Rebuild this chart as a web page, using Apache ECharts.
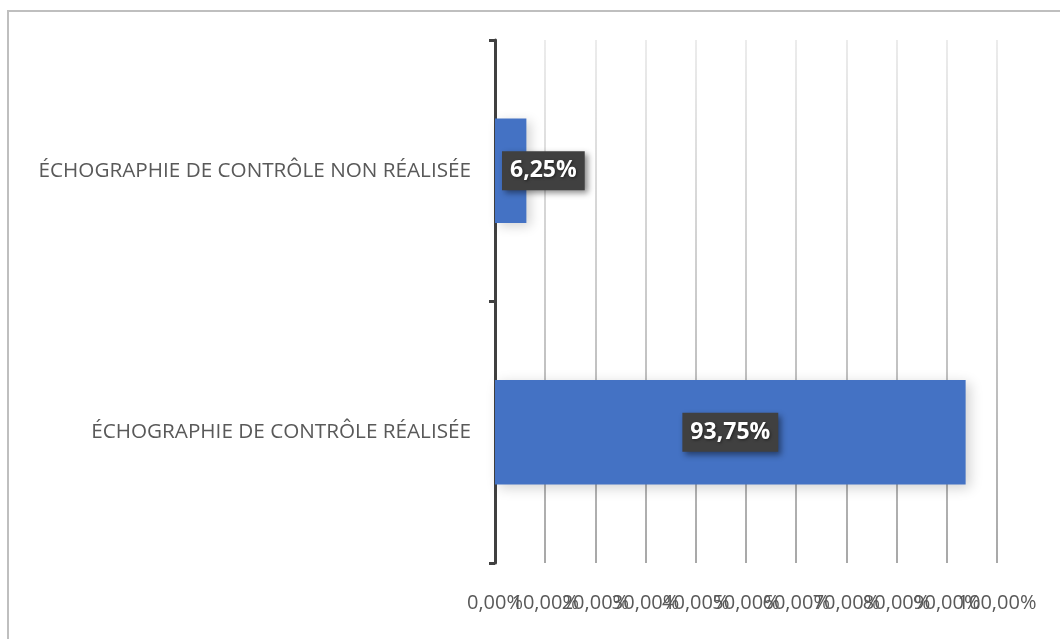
<!DOCTYPE html>
<html>
<head>
<meta charset="utf-8">
<script src="https://cdn.jsdelivr.net/npm/echarts@6/dist/echarts.min.js"></script>
<style>
  html, body { margin: 0; padding: 0; background: #ffffff; }
  #chart { width: 1060px; height: 639px; }
</style>
</head>
<body>
<div id="chart"></div>
<script>
// Categories listed bottom to top (category y-axis starts at the bottom)
const categories = [
  'ÉCHOGRAPHIE DE CONTRÔLE RÉALISÉE',
  'ÉCHOGRAPHIE DE CONTRÔLE NON RÉALISÉE'
];
const shares = [0.9375, 0.0625];
const xTicks = [0, 0.1, 0.2, 0.3, 0.4, 0.5, 0.6, 0.7, 0.8, 0.9, 1.0];

const fmtPct = v => (v * 100).toFixed(2).replace('.', ',') + '%';

const chart = echarts.init(document.getElementById('chart'), null, { renderer: 'canvas' });

const gridTop = 40, gridBottom = 76;
const plotBottom = 639 - gridBottom;

// Grid lines fade from light at the top to darker at the bottom
const splitGradient = new echarts.graphic.LinearGradient(0, gridTop, 0, plotBottom, [
  { offset: 0, color: '#ececec' },
  { offset: 1, color: '#a8a8a8' }
], true);

const labelBox = {
  color: '#ffffff',
  fontFamily: 'Open Sans',
  fontWeight: 'bold',
  fontSize: 23,
  lineHeight: 27,
  backgroundColor: '#404040',
  padding: [6, 8, 6, 8],
  shadowColor: 'rgba(0,0,0,0.45)',
  shadowBlur: 6,
  shadowOffsetX: 3,
  shadowOffsetY: 3,
  textShadowColor: 'rgba(0,0,0,0.5)',
  textShadowBlur: 3,
  textShadowOffsetX: 1,
  textShadowOffsetY: 1,
  formatter: p => fmtPct(p.value)
};

chart.setOption({
  animation: false,
  backgroundColor: '#ffffff',
  graphic: [{
    type: 'rect',
    shape: { x: 8, y: 11, width: 1100, height: 700 },
    style: { fill: 'none', stroke: '#bfbfbf', lineWidth: 2 },
    silent: true
  }],
  grid: { left: 495, right: 63, top: gridTop, bottom: gridBottom, containLabel: false },
  xAxis: [{
    // value scale used by the bars and grid lines
    type: 'value',
    min: xTicks[0],
    max: xTicks[xTicks.length - 1],
    interval: xTicks[1] - xTicks[0],
    axisLine: { show: false },
    axisTick: { show: false },
    splitLine: { show: true, lineStyle: { color: splitGradient, width: 2 } },
    axisLabel: { show: false }
  }, {
    // tick labels on the same positions, every one kept even where they overlap
    type: 'category',
    position: 'bottom',
    boundaryGap: false,
    data: xTicks.map(fmtPct),
    axisLine: { show: false },
    axisTick: { show: false },
    splitLine: { show: false },
    axisLabel: {
      interval: 0,
      color: '#595959',
      fontFamily: 'Open Sans',
      fontSize: 20,
      margin: 30,
      hideOverlap: false
    }
  }],
  yAxis: {
    type: 'category',
    data: categories,
    axisLine: { show: true, lineStyle: { color: '#404040', width: 3 } },
    axisTick: { show: true, length: 6, lineStyle: { color: '#404040', width: 3 } },
    axisLabel: {
      color: '#595959',
      fontFamily: 'Open Sans',
      fontSize: 20.7,
      margin: 24
    }
  },
  series: [{
    type: 'bar',
    xAxisIndex: 0,
    barCategoryGap: '60%',
    data: shares.map((v, i) => ({
      value: v,
      label: i === 1
        ? Object.assign({}, labelBox, { show: true, position: [7, '50%'], verticalAlign: 'middle', align: 'left' })
        : Object.assign({}, labelBox, { show: true, position: 'inside' })
    })),
    itemStyle: {
      color: '#4472c4',
      shadowColor: 'rgba(0,0,0,0.18)',
      shadowBlur: 12,
      shadowOffsetX: 4,
      shadowOffsetY: 3
    }
  }]
});
</script>
</body>
</html>
